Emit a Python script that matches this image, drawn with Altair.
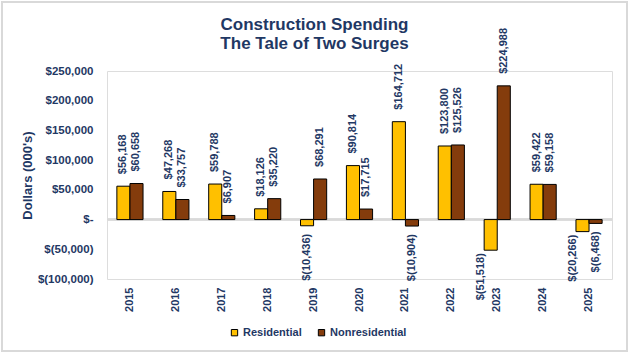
import altair as alt
import pandas as pd

years = ["2015", "2016", "2017", "2018", "2019", "2020", "2021", "2022", "2023", "2024", "2025"]
residential = [56168, 47268, 59788, 18126, -10436, 90814, 164712, 123800, -51518, 59422, -20266]
nonresidential = [60658, 33757, 6907, 35220, 68291, 17715, -10904, 125526, 224988, 59158, -6468]
series_names = ["Residential", "Nonresidential"]
series_colors = ["#FFC000", "#843C0C"]
y_ticks = [-100000, -50000, 0, 50000, 100000, 150000, 200000, 250000]
title_lines = ["Construction Spending", "The Tale of Two Surges"]
y_title = "Dollars (000's)"

rows = []
for i, yr in enumerate(years):
    rows.append({"year": yr, "series": series_names[0], "value": residential[i]})
    rows.append({"year": yr, "series": series_names[1], "value": nonresidential[i]})
df = pd.DataFrame(rows)

NAVY = "#1F3864"
FONT = "Liberation Sans"

label_expr = ("datum.value == 0 ? '$-\u00a0\u00a0' : (datum.value < 0 ? '$(' + format(-datum.value, ',') + ')' "
              ": '$' + format(datum.value, ','))")

y_scale = alt.Scale(domain=[-100000, 250000], nice=False, zero=False)
y_axis = alt.Axis(values=y_ticks, labelExpr=label_expr, title=y_title, labelOverlap=False,
                  tickCount=len(y_ticks),
                  labelFont=FONT, labelFontSize=11.5, labelFontWeight="bold",
                  labelColor=NAVY, domain=False, ticks=False, grid=False,
                  labelPadding=14, titleFont=FONT, titleFontSize=13,
                  titleFontWeight="bold", titleColor=NAVY, titleAngle=270,
                  titleX=-80, titleY=104, titleAlign="center", titleBaseline="middle")

x_enc = alt.X("year:N", sort=years,
              scale=alt.Scale(paddingInner=0.43, paddingOuter=0.215),
              axis=alt.Axis(title=None, labelAngle=-90, labelFont=FONT, labelFontSize=11,
                            labelFontWeight="bold", labelColor=NAVY, domain=False, ticks=False,
                            labelPadding=8, labelOverlap=False))
xoff_enc = alt.XOffset("series:N", sort=series_names)
y_enc = alt.Y("value:Q", scale=y_scale, axis=y_axis)

base = alt.Chart(df).encode(x=x_enc, xOffset=xoff_enc, y=y_enc)

bars = base.mark_bar(stroke="black", strokeWidth=1).encode(
    color=alt.Color("series:N", sort=series_names,
                    scale=alt.Scale(domain=series_names, range=series_colors),
                    legend=alt.Legend(title=None, orient="none", legendX=122, legendY=256,
                                      direction="horizontal", symbolType="square",
                                      symbolSize=40, symbolStrokeColor="black",
                                      symbolStrokeWidth=1, labelFont=FONT, labelFontSize=11,
                                      labelFontWeight="bold", labelColor=NAVY,
                                      columnPadding=14, labelOffset=3))
)

lbl_calc = ("datum.value < 0 ? '$(' + format(-datum.value, ',') + ')' : '$' + format(datum.value, ',')")
text_style = dict(angle=270, baseline="middle", font=FONT, fontSize=11,
                  fontWeight="bold", color=NAVY)

labels_pos = base.transform_filter("datum.value >= 0").transform_calculate(
    lbl=lbl_calc
).mark_text(align="left", dx=12, **text_style).encode(text="lbl:N")

# shallow negative bars: label just below the bar end
labels_neg = base.transform_filter("datum.value < 0 && datum.value > -15000").transform_calculate(
    lbl=lbl_calc
).mark_text(align="right", dx=-8, **text_style).encode(text="lbl:N")

# deeper negative bars: label nudged beside the bar so it clears the year labels
labels_neg_deep = base.transform_filter("datum.value <= -15000").transform_calculate(
    lbl=lbl_calc
).mark_text(align="right", dx=-3, dy=-10, **text_style).encode(text="lbl:N")

# zero baseline drawn from the same table (one rule per row, all at value 0)
zero_rule = alt.Chart(df).mark_rule(color="#D9D9D9", strokeWidth=1.5).encode(
    y=alt.datum(0, scale=y_scale, axis=y_axis)
)

frame = alt.Chart(df).mark_rect(filled=False, stroke="#D9D9D9", strokeWidth=1.5).encode(
    x=alt.value(-105), x2=alt.value(520), y=alt.value(-69), y2=alt.value(280)
)

chart = alt.layer(frame, zero_rule, bars, labels_pos, labels_neg, labels_neg_deep).properties(
    width=505, height=208,
    title=alt.TitleParams(text=title_lines, font=FONT, fontSize=17, fontWeight="bold",
                          color=NAVY, anchor="middle", frame="group", dx=-45, dy=52,
                          offset=0, lineHeight=19),
    autosize=alt.AutoSizeParams(type="none"),
    padding={"left": 107, "top": 71, "right": 17, "bottom": 73},
).configure_view(stroke=None).configure(background="white")

chart.save("out.html", embed_options={"renderer": "svg", "actions": False})
